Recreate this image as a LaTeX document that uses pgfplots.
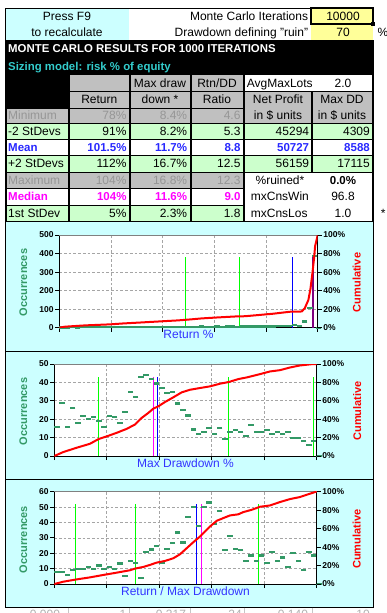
\documentclass[border=0pt]{standalone}
\usepackage{pgfplots}
\pgfplotsset{compat=1.18}
\usepackage{fontspec}
\setmainfont{Liberation Sans}

\definecolor{cyanbg}{RGB}{204,255,255}
\definecolor{yellowbg}{RGB}{255,255,153}
\definecolor{graybg}{RGB}{192,192,192}
\definecolor{graytxt}{RGB}{150,150,150}
\definecolor{greenbg}{RGB}{204,255,204}
\definecolor{meanblue}{RGB}{40,40,255}
\definecolor{medmag}{RGB}{255,0,255}
\definecolor{titlecyan}{RGB}{51,204,204}
\definecolor{occgreen}{RGB}{51,153,102}
\definecolor{lblblue}{RGB}{51,51,255}
\definecolor{vgreen}{RGB}{0,255,0}
\definecolor{vblue}{RGB}{0,0,255}
\definecolor{gridgray}{RGB}{165,165,165}
\definecolor{medpurple}{RGB}{128,0,128}

\newcommand\fs{\fontsize{12}{14}\selectfont}
\newcommand\bfs{\fontsize{11.5}{14}\selectfont\bfseries}
\newcommand\tfs{\fontsize{8.5}{9}\selectfont\bfseries}
\newcommand\lfs{\fontsize{11}{12}\selectfont\bfseries}

\pgfplotsset{
  leftax/.style={
    scale only axis, xmin=0, xmax=50,
    axis x line*=bottom, axis y line*=left,
    axis line style={black, line width=1pt},
    tick align=outside, major tick length=4pt,
    tick style={black, line width=0.8pt},
    xtick={0,10,20,30,40,50}, xticklabels={},
    grid=major,
    major grid style={gridgray, line width=0.7pt, dash pattern=on 2.7pt off 2pt},
    axis background/.style={fill=white},
    ticklabel style={font=\tfs, inner sep=1.5pt},
    clip=false,
  },
  rightax/.style={
    scale only axis, xmin=0, xmax=50, ymin=0, ymax=100,
    axis x line=none, axis y line*=right,
    axis line style={black, line width=1pt},
    tick align=outside, major tick length=4pt,
    tick style={black, line width=0.8pt},
    ytick={0,20,40,60,80,100},
    yticklabels={0\%,20\%,40\%,60\%,80\%,100\%},
    ticklabel style={font=\tfs, inner sep=1.5pt},
  },
  hist/.style={only marks, mark=-, mark size=2.7pt, color=occgreen,
    mark options={line width=2.2pt, draw=occgreen}},
  cum/.style={red, line width=2pt, mark=none},
  vl/.style={line width=1.2pt, mark=none},
}

\begin{document}
\begin{tikzpicture}
\path[use as bounding box] (0pt,0pt) rectangle (387pt,-613pt);
\begin{scope}[x=1pt,y=-1pt]
\fill[white] (0,0) rectangle (387,613);
% ---------- top input area
\fill[cyanbg] (5,8) rectangle (129,40);
\fill[yellowbg] (311,8) rectangle (373,40);
\draw[black, line width=0.8pt] (5,8) -- (373,8);
\draw[black, line width=0.8pt] (5,8) -- (5,40);
\draw[black, line width=1.6pt] (311,8) rectangle (373,24);
\fill[black] (371.3,22.3) rectangle (375,26);
\node[font=\fs, anchor=base] at (67,20) {Press F9};
\node[font=\fs, anchor=base] at (67,36.3) {to recalculate};
\node[font=\fs, anchor=base east, inner sep=0pt] at (308.3,20) {Monte Carlo Iterations};
\node[font=\fs, anchor=base east, inner sep=0pt] at (308.3,36.3) {Drawdown defining "ruin"};
\node[font=\fs, anchor=base] at (343,20) {10000};
\node[font=\fs, anchor=base] at (343,36.3) {70};
\node[font=\fs, anchor=base] at (383,36.3) {\%};
% ---------- black results block
\fill[black] (4.5,40) rectangle (373.5,222);
\node[font=\fontsize{11.4}{13}\selectfont\bfseries, text=white, anchor=base west, inner sep=0pt] at (8,52.7) {MONTE CARLO RESULTS FOR 1000 ITERATIONS};
\node[font=\fontsize{11.4}{13}\selectfont\bfseries, text=titlecyan, anchor=base west, inner sep=0pt] at (8,70) {Sizing model: risk \% of equity};
% header row 1
\fill[graybg] (69.5,75) rectangle (128.5,91);
\fill[graybg] (130.5,75) rectangle (189.5,91);
\fill[graybg] (191.5,75) rectangle (242.5,91);
\fill[white] (244.5,75) rectangle (371.5,91);
% header row 2 + minimum
\fill[graybg] (69.5,92.3) rectangle (128.5,107.5);
\fill[graybg] (130.5,92.3) rectangle (189.5,107.5);
\fill[graybg] (191.5,92.3) rectangle (242.5,107.5);
\fill[graybg] (244.5,92.3) rectangle (311,122.7);
\fill[graybg] (313,92.3) rectangle (371.5,122.7);
\fill[graybg] (7,108.5) rectangle (67.5,122.7);
\fill[graybg] (69.5,108.5) rectangle (128.5,122.7);
\fill[graybg] (130.5,108.5) rectangle (189.5,122.7);
\fill[graybg] (191.5,108.5) rectangle (242.5,122.7);
% -2 stdev, mean, +2 stdev
\foreach \a/\b in {7/67.5,69.5/128.5,130.5/189.5,191.5/242.5,244.5/311,313/371.5}{
  \fill[greenbg] (\a,123.7) rectangle (\b,139);
  \fill[white] (\a,140) rectangle (\b,155.2);
  \fill[greenbg] (\a,156.2) rectangle (\b,171.5);
}
\foreach \a/\b in {7/67.5,69.5/128.5,130.5/189.5,191.5/242.5}{
  \fill[graybg] (\a,172.5) rectangle (\b,188.3);
  \fill[white] (\a,189.3) rectangle (\b,205);
  \fill[greenbg] (\a,206) rectangle (\b,221);
}
\fill[white] (244.5,172.5) rectangle (371.5,221);
% header texts
\node[font=\fs, anchor=base] at (160,87.3) {Max draw};
\node[font=\fs, anchor=base] at (217,87.3) {Rtn/DD};
\node[font=\fs, anchor=base west, inner sep=0pt] at (246.7,87.3) {AvgMaxLots};
\node[font=\fs, anchor=base] at (343,87.3) {2.0};
\node[font=\fs, anchor=base] at (99.3,103.3) {Return};
\node[font=\fs, anchor=base] at (160,103.3) {down *};
\node[font=\fs, anchor=base] at (217,103.3) {Ratio};
\node[font=\fs, anchor=base] at (278,103.3) {Net Profit};
\node[font=\fs, anchor=base] at (342,103.3) {Max DD};
\node[font=\fs, anchor=base] at (278,119) {in \$ units};
\node[font=\fs, anchor=base] at (342,119) {in \$ units};
% rows
\newcommand\trow[7]{%
  \node[font=#1, text=#2, anchor=base west, inner sep=0pt] at (8,#3) {#4};
  \node[font=#1, text=#2, anchor=base east, inner sep=0pt] at (126.7,#3) {#5};
  \node[font=#1, text=#2, anchor=base east, inner sep=0pt] at (187.3,#3) {#6};
  \node[font=#1, text=#2, anchor=base east, inner sep=0pt] at (240.7,#3) {#7};
}
\trow{\fs}{graytxt}{119}{Minimum}{78\%}{8.4\%}{4.6}
\trow{\fs}{black}{135.7}{-2 StDevs}{91\%}{8.2\%}{5.3}
\trow{\bfs}{meanblue}{151.7}{Mean}{101.5\%}{11.7\%}{8.8}
\trow{\fs}{black}{167.7}{+2 StDevs}{112\%}{16.7\%}{12.5}
\trow{\fs}{graytxt}{184}{Maximum}{104\%}{16.8\%}{12.3}
\trow{\bfs}{medmag}{200.7}{Median}{104\%}{11.6\%}{9.0}
\trow{\fs}{black}{217.3}{1st StDev}{5\%}{2.3\%}{1.8}
\node[font=\fs, anchor=base east, inner sep=0pt] at (309.3,135.7) {45294};
\node[font=\fs, anchor=base east, inner sep=0pt] at (370,135.7) {4309};
\node[font=\bfs, text=meanblue, anchor=base east, inner sep=0pt] at (309.3,151.7) {50727};
\node[font=\bfs, text=meanblue, anchor=base east, inner sep=0pt] at (370,151.7) {8588};
\node[font=\fs, anchor=base east, inner sep=0pt] at (309.3,167.7) {56159};
\node[font=\fs, anchor=base east, inner sep=0pt] at (370,167.7) {17115};
\node[font=\fs, anchor=base] at (280,184) {\%ruined*};
\node[font=\bfs, anchor=base] at (343,184) {0.0\%};
\node[font=\fs, anchor=base west, inner sep=0pt] at (250.7,200.7) {mxCnsWin};
\node[font=\fs, anchor=base] at (343,200.7) {96.8};
\node[font=\fs, anchor=base west, inner sep=0pt] at (250.7,217.3) {mxCnsLos};
\node[font=\fs, anchor=base] at (343,217.3) {1.0};
\node[font=\fs, anchor=base] at (383.3,217.3) {*};
% ---------- chart panel
\fill[cyanbg] (5,222) rectangle (373,607);
\draw[black, line width=0.8pt] (5,222) -- (5,607) -- (373,607) -- (373,222);
\draw[black, line width=0.8pt] (5,351) -- (373,351);
\draw[black, line width=0.8pt] (5,479.3) -- (373,479.3);
% ---------- bottom strip (spreadsheet cells showing below the panel)
\foreach \xx in {68.3,129.3,190.7,244.3,312.3}{\draw[gray!45, line width=0.6pt] (\xx,607.5) -- (\xx,613);}
\begin{scope}
\clip (0,607.6) rectangle (387,613);
\node[font=\fs, text=gray!60, anchor=base] at (45,618.6) {0.000};
\node[font=\fs, text=gray!60, anchor=base east, inner sep=0pt] at (126.5,618.6) {1};
\node[font=\fs, text=gray!60, anchor=base] at (171,618.6) {0.317};
\node[font=\fs, text=gray!60, anchor=base] at (235,618.6) {24};
\node[font=\fs, text=gray!60, anchor=base] at (293,618.6) {0.140};
\node[font=\fs, text=gray!60, anchor=base] at (363,618.6) {10};
\end{scope}
% ---------- axis titles
\node[font=\lfs, text=occgreen, rotate=90] at (23.3,282.5) {Occurrences};
\node[font=\lfs, text=red, rotate=90] at (356.7,282.5) {Cumulative};
\node[font=\fs, text=lblblue, anchor=base] at (188.5,338.3) {Return \%};
\node[font=\lfs, text=occgreen, rotate=90] at (23.3,411.5) {Occurrences};
\node[font=\lfs, text=red, rotate=90] at (357.3,411) {Cumulative};
\node[font=\fs, text=lblblue, anchor=base] at (185.5,467.7) {Max Drawdown \%};
\node[font=\lfs, text=occgreen, rotate=90] at (23.3,539.5) {Occurrences};
\node[font=\lfs, text=red, rotate=90] at (356.7,539.2) {Cumulative};
\node[font=\fs, text=lblblue, anchor=base] at (185.5,595.7) {Return / Max Drawdown};
\end{scope}

% ================= CHART 1
\begin{axis}[leftax, at={(59.3pt,-327.7pt)}, anchor=south west,
  width=258.4pt, height=92.7pt, ymin=0, ymax=500,
  ytick={0,100,200,300,400,500}, yticklabels={0,100,200,300,400,500}]
\draw[gray, line width=1pt] (rel axis cs:0,1) -- (rel axis cs:1,1);
\addplot[vl, color=vgreen] coordinates {(24.38,0) (24.38,380)};
\addplot[vl, color=vgreen] coordinates {(34.83,0) (34.83,380)};
\addplot[vl, color=vblue] coordinates {(45.09,0) (45.09,380)};
\addplot[vl, color=medpurple] coordinates {(49.09,0) (49.09,380)};
\addplot[hist] coordinates {
(0.5,1)(1.5,1)(2.5,2)(3.5,1)(4.5,2)(5.5,2)(6.5,3)(7.5,2)(8.5,3)(9.5,3)
(10.5,3)(11.5,4)(12.5,3)(13.5,4)(14.5,4)(15.5,3)(16.5,4)(17.5,4)(18.5,5)(19.5,4)
(20.5,4)(21.5,5)(22.5,5)(23.5,4)(24.5,5)(25.5,5)(26.5,5)(27.5,6)(28.5,5)(29.5,5)
(30.5,6)(31.5,5)(32.5,6)(33.5,6)(34.5,5)(35.5,6)(36.5,6)(37.5,6)(38.5,7)(39.5,6)
(40.5,7)(41.5,7)(42.5,8)(43.5,8)(44.5,9)(45.5,13)(46.5,10)(47.5,33)(48.5,108)(49.5,385)
(50.2,0)};
\end{axis}
\begin{axis}[rightax, at={(59.3pt,-327.7pt)}, anchor=south west,
  width=258.4pt, height=92.7pt]
\addplot[cum] coordinates {
(0,0)(1.1,1.1)(5,2.5)(9.8,3.6)(12.4,4.6)(16,5.7)(19.5,6.8)(23,7.9)(25.3,8.9)
(27.5,10)(30.4,11)(34,12.1)(36,12.4)(41.4,15.1)(44.6,17.2)(46.9,17.5)(47.5,21)
(48.2,30)(48.6,42)(49,60)(49.3,75)(49.5,88)(49.8,95)(50,100)};
\end{axis}

% ================= CHART 2
\begin{axis}[leftax, at={(54.3pt,-456pt)}, anchor=south west,
  width=262.4pt, height=92pt, ymin=0, ymax=50,
  ytick={0,10,20,30,40,50}, yticklabels={0,10,20,30,40,50}]
\draw[gray, line width=1pt] (rel axis cs:0,1) -- (rel axis cs:1,1);
\addplot[vl, color=vgreen] coordinates {(8.46,0) (8.46,43.2)};
\addplot[vl, color=medmag] coordinates {(18.87,0) (18.87,43.2)};
\addplot[vl, color=vblue] coordinates {(19.7,0) (19.7,43.2)};
\addplot[vl, color=vgreen] coordinates {(33.2,0) (33.2,43.2)};
\addplot[vl, color=vgreen] coordinates {(49.36,0) (49.36,43.2)};
\addplot[hist] coordinates {
(0.5,15.8)(1.5,29)(2.5,15.8)(3.5,26)(4.5,18)(5.5,21.7)(6.5,20.3)(7.5,21.2)(8.5,19.2)(9.5,15.8)
(10.5,21.9)(11.5,21.2)(12.5,18)(13.5,24)(14.5,34.8)(15.5,32.2)(16.5,43)(17.5,44.2)(18.5,42)(19.5,39.4)
(20.5,37.1)(21.5,34.4)(22.5,34.9)(23.5,28.5)(24.5,25.1)(25.5,22)(26.5,14.4)(27.5,12.1)(28.5,13.2)(29.5,15.3)
(30.5,12.1)(31.5,15.3)(32.5,9.4)(33.5,13.2)(34.5,14.2)(35.5,13.2)(36.5,11)(37.5,16.9)(38.5,13.2)(39.5,13.2)
(40.5,14.2)(41.5,12.1)(42.5,13.2)(43.5,12.1)(44.5,13.2)(45.5,9.9)(46.5,9.9)(47.5,8.3)(48.5,6.1)(49.5,8.3)
(50.4,0)};
\end{axis}
\begin{axis}[rightax, at={(54.3pt,-456pt)}, anchor=south west,
  width=262.4pt, height=92pt]
\addplot[cum] coordinates {
(0,0)(1.71,4.3)(4.27,9)(6.8,13.3)(8.46,18.5)(9.98,21.3)(11.88,25.2)(13.79,29.5)
(15.37,34.2)(16.65,41.4)(17.91,46.8)(18.87,51.5)(19.82,54)(21.1,58.7)(22.68,63.8)
(24.28,69.2)(25.85,72)(27.76,73.9)(29.67,75.7)(31.57,78.6)(33.23,80.4)(35.06,83.6)
(36.66,85.4)(39.2,89)(41.1,91.9)(43,93.3)(44.9,96.2)(46.8,98.4)(49.05,99.8)(50,100)};
\end{axis}

% ================= CHART 3
\begin{axis}[leftax, at={(54.3pt,-584pt)}, anchor=south west,
  width=262.4pt, height=92.3pt, ymin=0, ymax=60,
  ytick={0,10,20,30,40,50,60}, yticklabels={0,10,20,30,40,50,60}]
\draw[gray, line width=1pt] (rel axis cs:0,1) -- (rel axis cs:1,1);
\addplot[vl, color=vgreen] coordinates {(4.0,0) (4.0,52.2)};
\addplot[vl, color=vgreen] coordinates {(15.5,0) (15.5,52.2)};
\addplot[vl, color=vblue] coordinates {(27.06,0) (27.06,52.2)};
\addplot[vl, color=medmag] coordinates {(28.0,0) (28.0,52.2)};
\addplot[vl, color=vgreen] coordinates {(38.87,0) (38.87,52.2)};
\addplot[hist] coordinates {
(0.5,8)(1.5,8)(2.5,6.1)(3.5,9.3)(4.5,10)(5.5,10)(6.5,11.3)(7.5,10)(8.5,12)(9.5,10)
(10.5,11.3)(11.5,10)(12.5,13.3)(13.5,5.4)(14.5,15)(15.5,13.9)(16.5,4.1)(17.5,20.9)(18.5,22.4)(19.5,24.8)
(20.5,14)(21.5,23)(22.5,26.5)(23.5,33.5)(24.5,27)(25.5,43.7)(26.5,50.2)(27.5,37.8)(28.5,50.2)(29.5,53)
(30.5,39.1)(31.5,47.2)(32.5,22.2)(33.5,31.3)(34.5,23)(35.5,22.2)(36.5,15)(37.5,18.5)(38.5,15)(39.5,18.5)
(40.5,13.7)(41.5,20.9)(42.5,15)(43.5,17.2)(44.5,11.3)(45.5,20.2)(46.5,15)(47.5,9.1)(48.5,20.9)(49.5,18.5)
(50.4,0)};
\end{axis}
\begin{axis}[rightax, at={(54.3pt,-584pt)}, anchor=south west,
  width=262.4pt, height=92.3pt]
\addplot[cum] coordinates {
(0,0)(1.71,2.5)(4.27,5)(6.8,7.2)(9.34,9.8)(11.89,12.3)(14.42,14.9)(15.38,16.7)
(16.96,18.5)(18.24,20.7)(19.51,23.2)(21.09,25)(22.68,27.9)(23.95,32.2)(25.23,38.8)
(26.49,45.3)(27.76,51.4)(28.72,56.9)(29.67,62.3)(30.95,68.5)(32.2,71.4)(33.48,74.3)
(35.06,75.5)(36.01,77.9)(37.61,80.4)(39.2,83.7)(41.1,85.1)(43,88.8)(44.9,92)
(46.8,94.2)(48.1,96.7)(49.68,99.6)(50,100)};
\end{axis}
\end{tikzpicture}
\end{document}
